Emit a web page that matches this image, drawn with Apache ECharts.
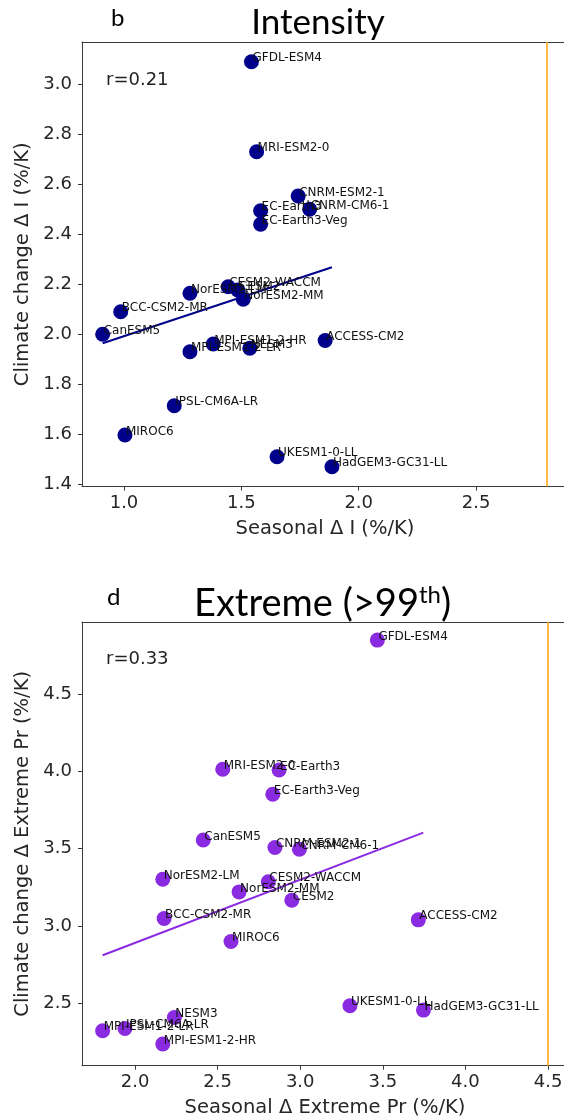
<!DOCTYPE html>
<html><head><meta charset="utf-8">
<script src="https://cdn.jsdelivr.net/npm/echarts@6/dist/echarts.min.js"></script>
<style>html,body{margin:0;padding:0;background:#fff}#c{width:564px;height:1118px}</style>
</head><body><div id="c"></div>
<script>
// ---- data ----
const models = ['GFDL-ESM4','MRI-ESM2-0','CNRM-ESM2-1','CNRM-CM6-1','EC-Earth3','EC-Earth3-Veg',
  'CESM2-WACCM','CESM2','NorESM2-LM','NorESM2-MM','BCC-CSM2-MR','CanESM5','MPI-ESM1-2-HR',
  'MPI-ESM1-2-LR','NESM3','ACCESS-CM2','IPSL-CM6A-LR','MIROC6','UKESM1-0-LL','HadGEM3-GC31-LL'];
// panel b: Intensity
const intSeasonal = [1.543,1.565,1.742,1.791,1.582,1.582,1.444,1.485,1.281,1.508,0.986,0.909,1.380,1.281,1.536,1.857,1.214,1.004,1.652,1.886];
const intClimate  = [3.089,2.729,2.552,2.499,2.493,2.439,2.189,2.176,2.163,2.139,2.089,1.999,1.960,1.929,1.943,1.974,1.713,1.596,1.509,1.469];
// panel d: Extreme (>99th)
const extSeasonal = [3.467,2.531,2.847,2.995,2.872,2.834,2.807,2.949,2.168,2.630,2.176,2.413,2.168,1.804,2.238,3.715,1.939,2.581,3.301,3.746];
const extClimate  = [4.850,4.014,3.507,3.496,4.009,3.852,3.285,3.166,3.302,3.220,3.048,3.556,2.235,2.321,2.407,3.039,2.336,2.899,2.483,2.455];
// regression lines (end points)
const intTrendX = [0.909, 1.886];
const intTrendY = [1.963, 2.267];
const extTrendX = [1.804, 3.745];
const extTrendY = [2.810, 3.604];
// correlation texts
const intR = 'r=0.21';
const extR = 'r=0.33';
// vertical reference lines
const intMarker = 2.8;
const extMarker = 4.5;
// tick labels
const intXTicks = [1.0, 1.5, 2.0, 2.5];
const intYTicks = [1.4, 1.6, 1.8, 2.0, 2.2, 2.4, 2.6, 2.8, 3.0];
const extXTicks = [2.0, 2.5, 3.0, 3.5, 4.0, 4.5];
const extYTicks = [2.5, 3.0, 3.5, 4.0, 4.5];

// ---- chart ----
const chart = echarts.init(document.getElementById('c'), null, {renderer: 'canvas'});
const F = 'DejaVu Sans';
const TITLEF = 'Lato';
const axisCol = '#3a3a3a';
const tickTxt = '#262626';
const GW = 486;
const intXRange = [0.821, 0.821 + GW / 234.7];
const extXRange = [1.679, 1.679 + GW / 165.2];

function pts(xs, ys) { return models.map((m, i) => ({name: m, value: [xs[i], ys[i]]})); }
function line(xs, ys) { return xs.map((x, i) => [x, ys[i]]); }

function xAx(gi, rng, ticks, name) {
  return {
    type: 'value', gridIndex: gi, min: rng[0], max: rng[1], position: 'bottom',
    name: name, nameLocation: 'middle', nameGap: 32,
    nameTextStyle: {fontFamily: F, fontSize: 19.5, color: tickTxt},
    axisLine: {show: true, onZero: false, lineStyle: {color: axisCol, width: 1}},
    axisTick: {show: true, length: 4, lineStyle: {color: axisCol}, customValues: ticks},
    axisLabel: {show: true, fontFamily: F, fontSize: 18, color: tickTxt, margin: 8,
      customValues: ticks, formatter: v => v.toFixed(1)},
    splitLine: {show: false}
  };
}
function xTop(gi, rng) {
  return {
    type: 'value', gridIndex: gi, min: rng[0], max: rng[1], position: 'top',
    axisLine: {show: true, onZero: false, lineStyle: {color: axisCol, width: 1}},
    axisTick: {show: false}, axisLabel: {show: false}, splitLine: {show: false}
  };
}
function yAx(gi, min, max, ticks, name) {
  return {
    type: 'value', gridIndex: gi, min: min, max: max,
    name: name, nameLocation: 'middle', nameGap: 49,
    nameTextStyle: {fontFamily: F, fontSize: 19.5, color: tickTxt},
    axisLine: {show: true, onZero: false, lineStyle: {color: axisCol, width: 1}},
    axisTick: {show: true, length: 4, lineStyle: {color: axisCol}, customValues: ticks},
    axisLabel: {show: true, fontFamily: F, fontSize: 18, color: tickTxt, margin: 10,
      customValues: ticks, formatter: v => v.toFixed(1)},
    splitLine: {show: false}
  };
}

const labelCfg = {show: true, formatter: '{b}', position: [8.5, 10], align: 'left',
  verticalAlign: 'bottom', fontFamily: F, fontSize: 12, color: '#111'};

const option = {
  animation: false,
  backgroundColor: '#fff',
  grid: [
    {left: 82, top: 42, width: GW, height: 444.5, show: false, containLabel: false, outerBoundsMode: 'none'},
    {left: 82, top: 622, width: GW, height: 443.7, show: false, containLabel: false, outerBoundsMode: 'none'}
  ],
  xAxis: [
    xAx(0, intXRange, intXTicks, 'Seasonal Δ I (%/K)'),
    xAx(1, extXRange, extXTicks, 'Seasonal Δ Extreme Pr (%/K)'),
    xTop(0, intXRange),
    xTop(1, extXRange)
  ],
  yAxis: [
    yAx(0, 1.390, 3.168, intYTicks, 'Climate change Δ I (%/K)'),
    yAx(1, 2.095, 4.967, extYTicks, 'Climate change Δ Extreme Pr (%/K)')
  ],
  series: [
    {type: 'line', xAxisIndex: 0, yAxisIndex: 0, data: line(intTrendX, intTrendY), symbol: 'none',
      lineStyle: {color: '#00008B', width: 2}, z: 2,
      markLine: {symbol: 'none', silent: true, label: {show: false}, animation: false,
        lineStyle: {color: '#FFA500', width: 1.5, type: 'solid'}, data: [{xAxis: intMarker}]}},
    {type: 'scatter', xAxisIndex: 0, yAxisIndex: 0, data: pts(intSeasonal, intClimate),
      symbolSize: 15, itemStyle: {color: '#00008B', opacity: 1}, label: labelCfg, z: 3},
    {type: 'line', xAxisIndex: 1, yAxisIndex: 1, data: line(extTrendX, extTrendY), symbol: 'none',
      lineStyle: {color: '#8A2BE2', width: 2}, z: 2,
      markLine: {symbol: 'none', silent: true, label: {show: false}, animation: false,
        lineStyle: {color: '#FFA500', width: 1.5, type: 'solid'}, data: [{xAxis: extMarker}]}},
    {type: 'scatter', xAxisIndex: 1, yAxisIndex: 1, data: pts(extSeasonal, extClimate),
      symbolSize: 15, itemStyle: {color: '#8A2BE2', opacity: 1}, label: labelCfg, z: 3}
  ],
  graphic: [
    {type: 'text', left: 111, top: 6, style: {text: 'b', fontFamily: TITLEF, fontSize: 24, fill: '#000'}},
    {type: 'text', x: 318, y: 23, style: {text: 'Intensity', fontFamily: TITLEF, fontSize: 35, fill: '#000', align: 'center', verticalAlign: 'middle'}},
    {type: 'text', x: 106, y: 80, style: {text: intR, fontFamily: F, fontSize: 18, fill: '#222', align: 'left', verticalAlign: 'middle'}},
    {type: 'text', left: 107, top: 585, style: {text: 'd', fontFamily: TITLEF, fontSize: 24, fill: '#000'}},
    {type: 'text', x: 194, y: 604, style: {
      text: '{m|Extreme (>99}{s|th}{m|)}', align: 'left', verticalAlign: 'middle',
      rich: {
        m: {fontFamily: TITLEF, fontSize: 38, fill: '#000', color: '#000', lineHeight: 42},
        s: {fontFamily: TITLEF, fontSize: 24, fill: '#000', color: '#000', lineHeight: 42, padding: [0, 0, 17, 0]}
      }}},
    {type: 'text', x: 106, y: 659, style: {text: extR, fontFamily: F, fontSize: 18, fill: '#222', align: 'left', verticalAlign: 'middle'}}
  ]
};
chart.setOption(option);
</script>
</body></html>
